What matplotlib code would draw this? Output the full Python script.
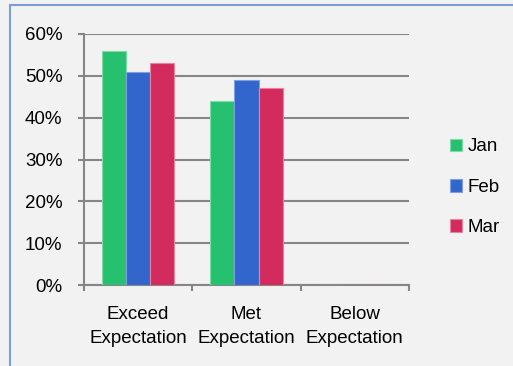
import numpy as np
import matplotlib.pyplot as plt
from matplotlib.patches import Rectangle

categories = ["Exceed\nExpectation", "Met\nExpectation", "Below\nExpectation"]
series = ["Jan", "Feb", "Mar"]
jan = [0.56, 0.44, 0.0]
feb = [0.51, 0.49, 0.0]
mar = [0.53, 0.47, 0.0]
y_ticks = [0, 0.1, 0.2, 0.3, 0.4, 0.5, 0.6]

colors = ["#25C16F", "#3366CC", "#D42B5E"]
edges = ["#7FDCA8", "#7F9FE0", "#E883A2"]
grid_c = "#868686"

plt.rcParams["font.family"] = ["Liberation Sans", "DejaVu Sans"]
plt.rcParams["font.size"] = 13.5

fig = plt.figure(figsize=(5.13, 3.66), dpi=100, facecolor="#F2F2F2")
fig.patches.append(Rectangle((10 / 513, -0.1), 1.2, 1 - 5 / 366 + 0.1,
                             transform=fig.transFigure, fill=False,
                             edgecolor="#7A9FD4", linewidth=1.5))

ax = fig.add_axes([84 / 513, 1 - 285 / 366, (409 - 84) / 513, (285 - 34) / 366])
ax.set_facecolor("#F2F2F2")

x = np.arange(len(categories))
w = 0.222
for i, (vals, name) in enumerate(zip([jan, feb, mar], series)):
    ax.bar(x + (i - 1) * w, vals, width=w, color=colors[i], edgecolor=edges[i],
           linewidth=0.8, label=name, zorder=3)

ax.set_xlim(-0.5, len(categories) - 0.5)
ax.set_ylim(0, 0.6)
ax.set_yticks(y_ticks)
ax.set_yticklabels([f"{int(round(v * 100))}%" for v in y_ticks])
ax.yaxis.grid(True, color=grid_c, linewidth=1.5, zorder=0)
ax.set_axisbelow(True)

ax.set_xticks(np.arange(len(categories) + 1) - 0.5)
ax.set_xticklabels([])
ax.set_xticks(x, minor=True)
ax.set_xticklabels(categories, minor=True, linespacing=1.55)
ax.tick_params(axis="x", which="major", length=4.5, width=1.5, color=grid_c)
ax.tick_params(axis="x", which="minor", length=0, pad=15)
ax.tick_params(axis="y", length=4.5, width=1.5, color=grid_c, pad=11)

for s in ["top", "right"]:
    ax.spines[s].set_visible(False)
for s in ["left", "bottom"]:
    ax.spines[s].set_color(grid_c)
    ax.spines[s].set_linewidth(1.5)

fig.legend(loc="center left", bbox_to_anchor=(0.877, 0.488), frameon=False,
           handlelength=0.65, handleheight=0.65, handletextpad=0.3,
           labelspacing=1.25, borderpad=0, borderaxespad=0)

fig.savefig("out.png", dpi=100, facecolor=fig.get_facecolor())
